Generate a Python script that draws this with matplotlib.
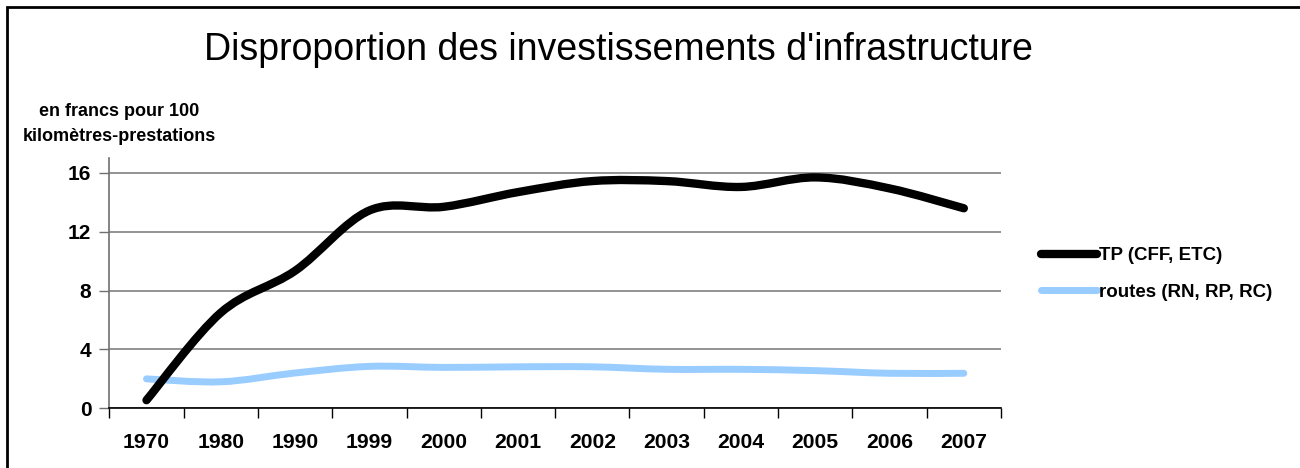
import numpy as np
import matplotlib.pyplot as plt
from matplotlib.path import Path
from matplotlib.patches import PathPatch, Rectangle
from matplotlib.lines import Line2D

plt.rcParams['font.family'] = ['Liberation Sans', 'DejaVu Sans']

# donnees
annees = ['1970', '1980', '1990', '1999', '2000', '2001',
          '2002', '2003', '2004', '2005', '2006', '2007']
tp = [0.55, 6.5, 9.35, 13.45, 13.7, 14.7, 15.45, 15.45, 15.05, 15.7, 14.95, 13.6]
routes = [2.0, 1.8, 2.4, 2.85, 2.78, 2.82, 2.82, 2.65, 2.65, 2.56, 2.38, 2.38]
noms = ['TP (CFF, ETC)', 'routes (RN, RP, RC)']
couleurs = ['black', '#99ccff']
epaisseurs = [6.0, 5.0]


def courbe_lissee(x, y):
    # courbe lissee style Excel (bezier a partir des points)
    pts = np.column_stack([x, y]).astype(float)
    p = np.vstack([pts[0], pts, pts[-1]])
    verts = [tuple(pts[0])]
    codes = [Path.MOVETO]
    for i in range(1, len(p) - 2):
        c1 = p[i] + (p[i + 1] - p[i - 1]) / 6.0
        c2 = p[i + 1] - (p[i + 2] - p[i]) / 6.0
        verts += [tuple(c1), tuple(c2), tuple(p[i + 1])]
        codes += [Path.CURVE4] * 3
    return Path(verts, codes)


fig = plt.figure(figsize=(13, 4.68), dpi=100)
ax = fig.add_axes([0.0841, 0.1276, 0.6859, 0.5342])

x = np.arange(len(annees))
for serie, c, lw in [(routes, couleurs[1], epaisseurs[1]), (tp, couleurs[0], epaisseurs[0])]:
    patch = PathPatch(courbe_lissee(x, serie), fill=False, edgecolor=c, lw=lw,
                      capstyle='round', joinstyle='round', zorder=3)
    ax.add_patch(patch)

ax.set_xlim(-0.5, len(annees) - 0.5)
ax.set_ylim(0, 17)
ax.set_yticks([0, 4, 8, 12, 16])
ax.set_xticks(x)
ax.set_xticklabels(annees, fontsize=15.2, fontweight='bold')
ax.set_xticks(np.arange(-0.5, len(annees)), minor=True)
ax.tick_params(axis='x', which='major', length=0, pad=18)
ax.tick_params(axis='x', which='minor', length=7, color='black', width=1)
ax.tick_params(axis='y', length=7, color='#707070', width=1, pad=6, labelsize=15)
for lab in ax.get_yticklabels():
    lab.set_fontweight('bold')

ax.yaxis.grid(True, color='#808080', lw=1.2)
ax.set_axisbelow(True)
for s in ['top', 'right']:
    ax.spines[s].set_visible(False)
ax.spines['left'].set_color('#707070')
ax.spines['bottom'].set_color('black')
ax.spines['left'].set_linewidth(1.2)
ax.spines['bottom'].set_linewidth(1.2)

fig.text(618 / 1300, 1 - 50 / 468, "Disproportion des investissements d'infrastructure",
         ha='center', va='center', fontsize=27)
fig.text(119 / 1300, 1 - 124 / 468, 'en francs pour 100\nkilomètres-prestations',
         ha='center', va='center', fontsize=13, fontweight='bold', linespacing=1.55)

poignees = [Line2D([], [], color=c, lw=lw, solid_capstyle='round')
            for c, lw in zip(couleurs, epaisseurs)]
fig.legend(poignees, noms, loc='center left', bbox_to_anchor=(1024 / 1300, 1 - 274 / 468),
           frameon=False, handlelength=3.0, handletextpad=0.1, labelspacing=1.05,
           prop={'weight': 'bold', 'size': 13.5})

fig.patches.append(Rectangle((7 / 1300, -0.1), 1.2, 1 - 7 / 468 + 0.1, fill=False,
                             edgecolor='black', lw=2, transform=fig.transFigure))

fig.savefig('out.png', dpi=100)
